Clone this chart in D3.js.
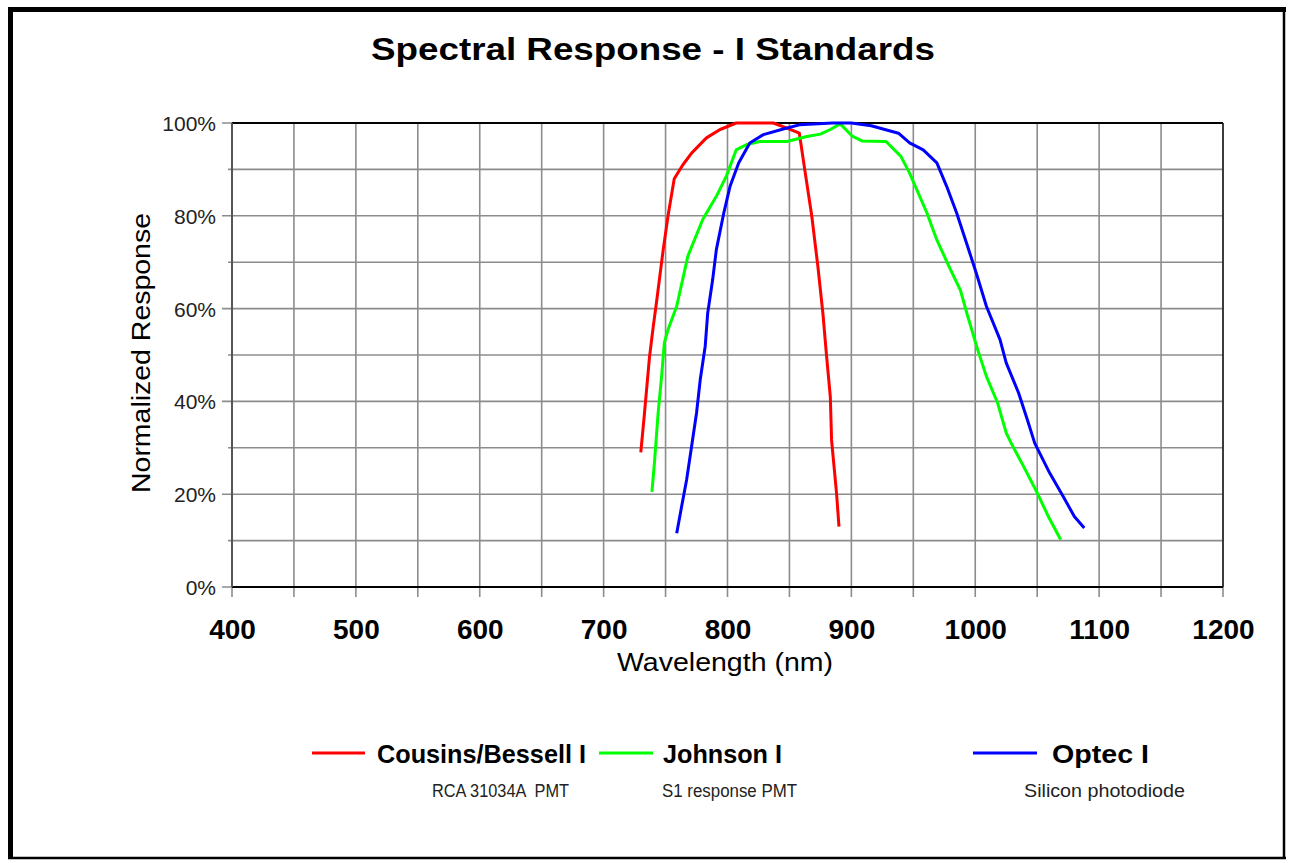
<!DOCTYPE html>
<html>
<head>
<meta charset="utf-8">
<script src="https://cdn.jsdelivr.net/npm/d3@7"></script>
<style>
  html, body { margin: 0; padding: 0; background: #fff; }
  svg { display: block; }
  text { font-family: "Liberation Sans", Arial, sans-serif; }
</style>
</head>
<body>
<svg id="chart" width="1289" height="863"></svg>
<script>
// ---- Data ----
const titleText = "Spectral Response - I Standards";
const xTicks = [400, 500, 600, 700, 800, 900, 1000, 1100, 1200];
const yTicks = [0, 20, 40, 60, 80, 100];

const cousinsNm  = [730, 733, 737, 740, 743, 748, 752, 757, 764, 771, 783, 794, 807, 820, 837, 848, 858, 862, 868, 873, 877, 880, 883, 884, 886, 888, 890];
const cousinsVal = [29, 37.5, 49.5, 56, 62, 72.5, 80, 88, 91, 93.5, 96.8, 98.6, 100, 100, 100, 98.9, 97.8, 90.6, 80, 69, 59, 49.7, 41, 31.7, 26, 20.3, 13];

const johnsonNm  = [739, 741, 744, 747, 749, 752, 759, 768, 780, 791, 799, 807, 815, 826, 848, 864, 875, 883, 891, 901, 909, 928, 940, 947, 961, 969, 980, 988, 994, 1002, 1009, 1018, 1025, 1029, 1039, 1050, 1059, 1069];
const johnsonVal = [20.5, 26.7, 37.5, 46, 52.6, 55.5, 60.5, 71.3, 79.2, 84.2, 88.5, 94.2, 95.3, 96, 96, 97.1, 97.6, 98.6, 99.8, 97.1, 96.1, 96, 92.8, 89.2, 80.6, 74.8, 68.4, 64, 58.3, 51.1, 45.4, 39.7, 33.2, 31, 26, 20.3, 15.2, 10.2];

const optecNm  = [759, 763, 767, 771, 775, 778, 782, 784, 788, 791, 797, 802, 809, 818, 829, 845, 858, 885, 900, 916, 938, 947, 958, 969, 977, 985, 993, 1001, 1009, 1020, 1025, 1035, 1042, 1048, 1060, 1071, 1080, 1088];
const optecVal = [11.6, 17.4, 23.1, 30.3, 37.5, 44.7, 51.9, 59, 66.2, 72.7, 80.6, 86.3, 91.4, 95.7, 97.5, 98.7, 99.6, 100, 100, 99.4, 97.8, 95.7, 94.2, 91.4, 86.3, 80.6, 74.1, 67.5, 60.5, 53.3, 48.3, 41.8, 36.1, 31, 24.6, 19.5, 15.2, 12.7];

const seriesNames = ["Cousins/Bessell I", "Johnson I", "Optec I"];
const seriesSubs  = ["RCA 31034A  PMT", "S1 response PMT", "Silicon photodiode"];
const seriesColors = ["#ff0000", "#00ff00", "#0000ff"];

// ---- Build ----
const series = [
  { name: seriesNames[0], sub: seriesSubs[0], color: seriesColors[0], pts: cousinsNm.map((d, i) => [d, cousinsVal[i]]) },
  { name: seriesNames[1], sub: seriesSubs[1], color: seriesColors[1], pts: johnsonNm.map((d, i) => [d, johnsonVal[i]]) },
  { name: seriesNames[2], sub: seriesSubs[2], color: seriesColors[2], pts: optecNm.map((d, i) => [d, optecVal[i]]) }
];

const svg = d3.select("#chart");
const W = 1289, H = 863;

const x = d3.scaleLinear().domain([400, 1200]).range([232, 1223]);
const y = d3.scaleLinear().domain([0, 100]).range([587, 123]);

// outer frame
svg.append("rect").attr("x", 0).attr("y", 0).attr("width", W).attr("height", H).attr("fill", "#fff");
svg.append("line").attr("x1", 8).attr("x2", 1286).attr("y1", 9.5).attr("y2", 9.5).attr("stroke", "#000").attr("stroke-width", 5);
svg.append("line").attr("x1", 10.5).attr("x2", 10.5).attr("y1", 7).attr("y2", 859).attr("stroke", "#000").attr("stroke-width", 5);
svg.append("line").attr("x1", 1284).attr("x2", 1284).attr("y1", 7).attr("y2", 859).attr("stroke", "#000").attr("stroke-width", 2.5);
svg.append("line").attr("x1", 8).attr("x2", 1286).attr("y1", 858).attr("y2", 858).attr("stroke", "#000").attr("stroke-width", 2.5);

// title
svg.append("text").attr("x", 653).attr("y", 60).attr("text-anchor", "middle")
  .attr("font-size", 31).attr("font-weight", "bold").attr("textLength", 564).attr("lengthAdjust", "spacingAndGlyphs")
  .text(titleText);

const grid = svg.append("g");
// vertical grid lines (every 50 nm) with ticks below
const xGrid = d3.range(400, 1201, 50);
grid.selectAll("line.vx").data(xGrid).join("line")
  .attr("x1", d => x(d)).attr("x2", d => x(d))
  .attr("y1", y(100)).attr("y2", y(0) + 10)
  .attr("stroke", "#8c8c8c").attr("stroke-width", 1.6);
// horizontal grid lines (every 10%)
const yGrid = d3.range(0, 101, 10);
grid.selectAll("line.hy").data(yGrid).join("line")
  .attr("x1", d => d % 20 === 0 ? 222 : 228).attr("x2", x(1200))
  .attr("y1", d => y(d)).attr("y2", d => y(d))
  .attr("stroke", "#8c8c8c").attr("stroke-width", 1.6);

// axis frame
svg.append("line").attr("x1", x(400)).attr("x2", x(1200)).attr("y1", y(100)).attr("y2", y(100)).attr("stroke", "#000").attr("stroke-width", 2);
svg.append("line").attr("x1", x(400)).attr("x2", x(1200)).attr("y1", y(0)).attr("y2", y(0)).attr("stroke", "#000").attr("stroke-width", 2);
svg.append("line").attr("x1", x(400)).attr("x2", x(400)).attr("y1", y(100)).attr("y2", y(0)).attr("stroke", "#555").attr("stroke-width", 2);
svg.append("line").attr("x1", x(1200)).attr("x2", x(1200)).attr("y1", y(100)).attr("y2", y(0)).attr("stroke", "#222").attr("stroke-width", 1.6);

// x axis tick labels via d3 axis
const xAxis = d3.axisBottom(x).tickValues(xTicks).tickSize(0).tickPadding(0).tickFormat(d3.format("d"));
const gx = svg.append("g").attr("transform", `translate(0,${y(0)})`).call(xAxis);
gx.select(".domain").remove();
gx.selectAll("text").attr("font-size", 28).attr("font-weight", "bold").attr("fill", "#000")
  .attr("dy", null).attr("y", 52).attr("font-family", "Liberation Sans, Arial, sans-serif");

// y axis tick labels via d3 axis
const yAxis = d3.axisLeft(y).tickValues(yTicks).tickSize(0).tickPadding(0).tickFormat(d => d + "%");
const gy = svg.append("g").attr("transform", `translate(216,0)`).call(yAxis);
gy.select(".domain").remove();
gy.selectAll("text").attr("font-size", 21).attr("fill", "#222").attr("x", 0).attr("dy", "0.36em")
  .attr("font-family", "Liberation Sans, Arial, sans-serif");

// axis titles
svg.append("text").attr("x", 725).attr("y", 671).attr("text-anchor", "middle")
  .attr("font-size", 26).attr("textLength", 216).attr("lengthAdjust", "spacingAndGlyphs")
  .text("Wavelength (nm)");
svg.append("text").attr("transform", "translate(150,353) rotate(-90)").attr("text-anchor", "middle")
  .attr("font-size", 26).attr("textLength", 280).attr("lengthAdjust", "spacingAndGlyphs")
  .text("Normalized Response");

// series lines
const line = d3.line().x(d => x(d[0])).y(d => y(d[1])).curve(d3.curveLinear);
svg.append("g").selectAll("path").data(series).join("path")
  .attr("d", d => line(d.pts)).attr("fill", "none")
  .attr("stroke", d => d.color).attr("stroke-width", 3).attr("stroke-linejoin", "round");

// legend
const legendLayout = [
  { lx1: 312, lx2: 365, tx: 377, tw: 209, sx: 432, sw: 137 },
  { lx1: 599, lx2: 653, tx: 663, tw: 119, sx: 662, sw: 135 },
  { lx1: 973, lx2: 1037, tx: 1052, tw: 97, sx: 1024, sw: 161 }
];
const lg = svg.append("g");
series.forEach((s, i) => {
  const L = legendLayout[i];
  lg.append("line").attr("x1", L.lx1).attr("x2", L.lx2).attr("y1", 753).attr("y2", 753)
    .attr("stroke", s.color).attr("stroke-width", 3);
  lg.append("text").attr("x", L.tx).attr("y", 763).attr("font-size", 25).attr("font-weight", "bold")
    .attr("textLength", L.tw).attr("lengthAdjust", "spacingAndGlyphs").text(s.name);
  lg.append("text").attr("x", L.sx).attr("y", 797).attr("font-size", 18).attr("fill", "#222")
    .style("white-space", "pre")
    .attr("textLength", L.sw).attr("lengthAdjust", "spacingAndGlyphs").text(s.sub);
});
</script>
</body>
</html>
